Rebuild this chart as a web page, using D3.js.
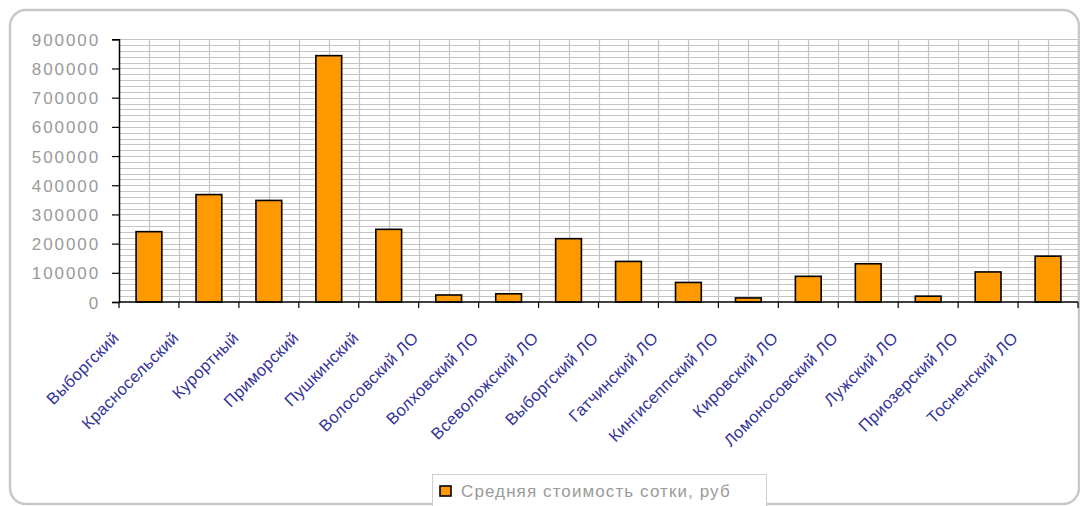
<!DOCTYPE html>
<html><head><meta charset="utf-8">
<script src="https://cdn.jsdelivr.net/npm/d3@7"></script>
<style>body{margin:0;background:#fff}svg{display:block}</style>
</head><body>
<svg id="c" width="1080" height="506"></svg>
<script>
const categories = ["Выборгский","Красносельский","Курортный","Приморский","Пушкинский","Волосовский ЛО","Волховский ЛО","Всеволожский ЛО","Выборгский ЛО","Гатчинский ЛО","Кингисеппский ЛО","Кировский ЛО","Ломоносовский ЛО","Лужский ЛО","Приозерский ЛО","Тосненский ЛО"];
const values = [241000,368000,348000,844000,249000,24000,28000,217000,139000,67000,14000,88000,131000,20000,103000,157000];
const yTicks = [0,100000,200000,300000,400000,500000,600000,700000,800000,900000];
const seriesName = "Средняя стоимость сотки, руб";

const svg = d3.select("#c");
const L = 119, R = 1078, T = 39.3, B = 302;
const x = d3.scaleBand().domain(categories).range([L, R]);
const y = d3.scaleLinear().domain([0, 900000]).range([B, T]);

// frame
svg.append("rect").attr("x",10).attr("y",10).attr("width",1069).attr("height",494)
  .attr("rx",16).attr("fill","#fff").attr("stroke","#c8c8c8").attr("stroke-width",2.5);

// horizontal minor grid
const g = svg.append("g");
g.selectAll("line.h").data(d3.range(20000, 900001, 20000)).join("line")
  .attr("x1",L).attr("x2",R).attr("y1",d=>Math.round(y(d))+0.5).attr("y2",d=>Math.round(y(d))+0.5)
  .attr("stroke","#c4c4c4").attr("stroke-width",1);
// vertical grid at half-category steps
const vx = [];
categories.forEach(c => { vx.push(x(c) + x.bandwidth()/2); vx.push(x(c) + x.bandwidth()); });
g.selectAll("line.v").data(vx).join("line")
  .attr("x1",d=>Math.round(d)+0.5).attr("x2",d=>Math.round(d)+0.5).attr("y1",T).attr("y2",B)
  .attr("stroke","#c4c4c4").attr("stroke-width",1.2);

// bars
const bw = x.bandwidth()*0.43;
svg.append("g").selectAll("rect").data(values).join("rect")
  .attr("x",(d,i)=>x(categories[i]) + x.bandwidth()/2 - bw/2)
  .attr("width",bw)
  .attr("y",d=>y(d)).attr("height",d=>B - y(d))
  .attr("fill","#FF9900").attr("stroke","#000").attr("stroke-width",1.6);

// y axis
const ya = svg.append("g").attr("transform",`translate(${L},0)`)
  .call(d3.axisLeft(y).tickValues(yTicks).tickSize(7).tickPadding(12).tickFormat(d3.format("d")));
ya.select(".domain").attr("stroke","#000").attr("stroke-width",1.5);
ya.selectAll(".tick line").attr("stroke","#000").attr("stroke-width",1.2);
ya.selectAll("text").attr("fill","#9a9a9a").attr("font-family","Liberation Sans, Arial, sans-serif")
  .attr("font-size",17).attr("letter-spacing","1.9px").attr("dy","0.36em");

// x axis
const xa = svg.append("g").attr("transform",`translate(0,${B})`);
xa.append("line").attr("x1",L).attr("x2",R).attr("stroke","#000").attr("stroke-width",1.5);
const bounds = [L].concat(categories.map(c=>x(c)+x.bandwidth()));
xa.selectAll("line.t").data(bounds).join("line")
  .attr("x1",d=>d).attr("x2",d=>d).attr("y1",0).attr("y2",6).attr("stroke","#000").attr("stroke-width",1.2);

svg.append("g").selectAll("text").data(categories).join("text")
  .attr("transform",d=>`translate(${x(d)+x.bandwidth()/2-29},${B+37}) rotate(-45)`)
  .attr("text-anchor","end")
  .attr("fill","#333399").attr("font-family","Liberation Sans, Arial, sans-serif")
  .attr("font-size",16.5).attr("letter-spacing","0.4px")
  .text(d=>d);

// legend
const lg = svg.append("g");
lg.append("rect").attr("x",432.5).attr("y",474.5).attr("width",334).attr("height",40)
  .attr("fill","#fff").attr("stroke","#cfcfcf").attr("stroke-width",1);
lg.append("rect").attr("x",440).attr("y",486).attr("width",11).attr("height",10)
  .attr("fill","#FF9900").attr("stroke","#000").attr("stroke-width",1.6);
lg.append("text").attr("x",461).attr("y",497).attr("fill","#9a9a9a")
  .attr("font-family","Liberation Sans, Arial, sans-serif").attr("font-size",17)
  .attr("letter-spacing","1.1px").text(seriesName);
</script>
</body></html>
